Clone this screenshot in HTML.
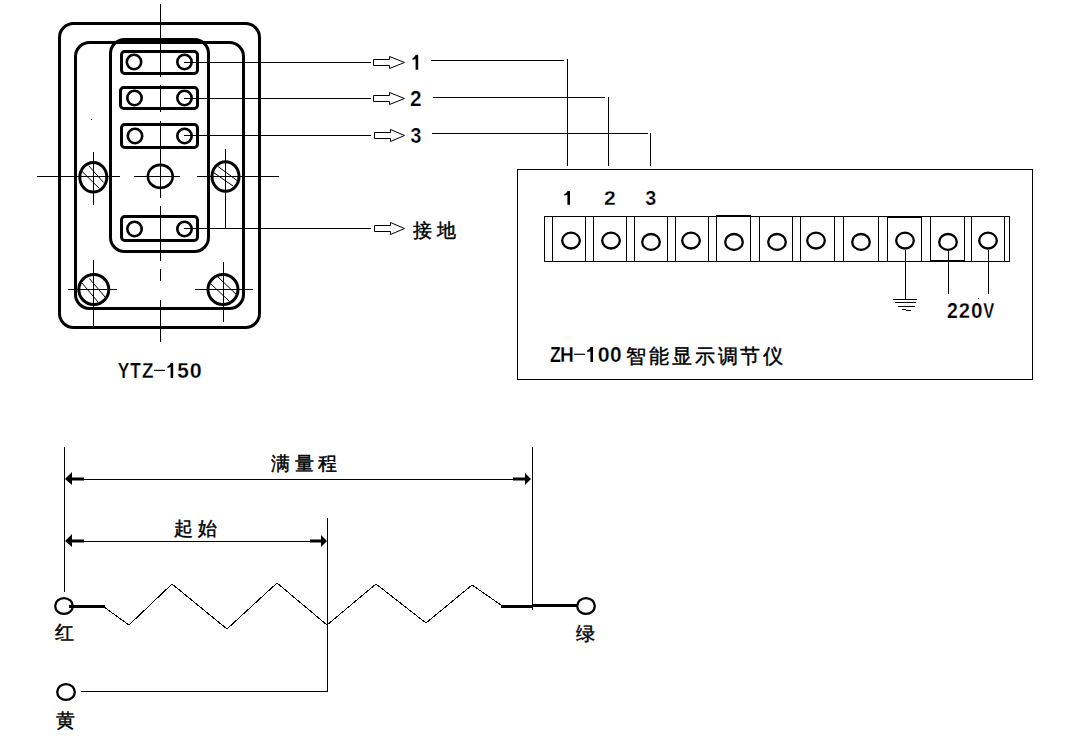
<!DOCTYPE html>
<html><head><meta charset="utf-8">
<style>
html,body{margin:0;padding:0;background:#fff;width:1072px;height:747px;overflow:hidden}
svg{display:block;position:absolute;left:0;top:0}
.g{font-family:"Liberation Sans",sans-serif;font-weight:bold;fill:#000;stroke:#fff;stroke-width:0.25}
.c{font-family:"Liberation Serif",serif;font-weight:normal;fill:#000;stroke:#000;stroke-width:0.45}
</style></head><body>
<svg width="1072" height="747" viewBox="0 0 1072 747">
<g fill="none" stroke="#000">
<!-- ===== left device ===== -->
<rect x="59.5" y="23.5" width="200" height="304" rx="14" ry="14" stroke-width="3"/>
<rect x="75.5" y="42.5" width="168" height="266" rx="14" ry="14" stroke-width="3"/>
<rect x="110.5" y="39.5" width="98" height="212" rx="14" ry="14" stroke-width="3"/>
<!-- slots -->
<rect x="121.5" y="51.5" width="76" height="22" rx="3.2" stroke-width="3"/>
<rect x="120.5" y="87.5" width="77" height="21" rx="3.2" stroke-width="3"/>
<rect x="121.5" y="124.5" width="76" height="23" rx="3.2" stroke-width="3"/>
<rect x="121.5" y="216.5" width="76" height="24" rx="3.2" stroke-width="3"/>
<g stroke-width="2.6">
<circle cx="134" cy="62" r="7.2"/><circle cx="184.5" cy="62" r="7.2"/>
<circle cx="134.5" cy="98" r="7.2"/><circle cx="184.5" cy="98" r="7.2"/>
<circle cx="135" cy="136" r="7.2"/><circle cx="184.5" cy="136" r="7.2"/>
<circle cx="134.5" cy="229" r="7.2"/><circle cx="184.5" cy="229" r="7.2"/>
</g>
<!-- holes -->
<g stroke-width="3">
<ellipse cx="93.3" cy="177.3" rx="13.5" ry="14.8"/>
<ellipse cx="225.5" cy="176.5" rx="13.5" ry="14.8"/>
<ellipse cx="93.8" cy="289.5" rx="15" ry="15"/>
<ellipse cx="223" cy="289.5" rx="15" ry="15"/>
</g>
<ellipse cx="160.3" cy="176.4" rx="12.4" ry="11.5" stroke-width="2.6"/>
<!-- hatch -->
<g stroke-width="1">
<path d="M82 171.5L99.5 188.5M88.8 165.8L103.5 182.4"/>
<path d="M213.5 172.5L233 186M218 166.5L237 180.5"/>
<path d="M82 283L98 302M89.4 278.5L105 297"/>
<path d="M210.6 283.7L229.4 301.3M218 277L236.3 294.4"/>
</g>
</g>
<g fill="none" stroke="#000" stroke-width="1" shape-rendering="crispEdges">
<!-- center lines -->
<path d="M160.5 4V77M160.5 85V112M160.5 121V198M160.5 206V261M160.5 269V281M160.5 300V342"/>
<path d="M37 176.5H120M134 176.5H180M197 176.5H279"/>
<path d="M93.5 152V205M225.5 149V228"/>
<path d="M68 289.5H117M195 289.5H253M93.5 260V326M223.5 262V322"/>
<!-- leaders -->
<path d="M184 62.5H371M184 98.5H371M184 135.5H371M184 228.5H371"/>
<path d="M431 60.5H564M567.5 59V166"/>
<path d="M433 97.5H605M608.5 97V166"/>
<path d="M432 133.5H648M650.5 133V166"/>
</g>
<!-- hollow arrows -->
<g fill="#fff" stroke="#000" stroke-width="1">
<path d="M373.5 59.5H389.5V56.5L404.5 62.5L389.5 68.5V65.5H373.5Z"/>
<path d="M373.5 95.5H389.5V92.5L404.5 98.5L389.5 104.5V101.5H373.5Z"/>
<path d="M374.5 132.5H390.5V129.5L404.5 135.5L390.5 141.5V138.5H374.5Z"/>
<path d="M374.5 225.5H390.5V222.5L404.5 228.5L390.5 234.5V231.5H374.5Z"/>
</g>
<text class="c" x="413" y="237" font-size="19" letter-spacing="5">接地</text>

<!-- ===== right instrument ===== -->
<g fill="none" stroke="#000" stroke-width="1" shape-rendering="crispEdges">
<rect x="517.5" y="169.5" width="515" height="210"/>
<rect x="544.5" y="216.5" width="465" height="45"/>
<path d="M552.5 216V262M585.5 216V262M593.5 216V262M626.5 216V262M634.5 216V262M667.5 216V262M675.5 216V262M708.5 216V262M716.5 216V262M750.5 216V262M759.5 216V262M792.5 216V262M800.5 216V262M834.5 216V262M843.5 216V262M878.5 216V262M887.5 216V262M921.5 216V262M930.5 216V262M964.5 216V262M971.5 216V262M1004.5 216V262"/>
<path d="M716 215.5H751M887 217.5H921M930 260.5H964"/>
<path d="M905.5 250V299M948.5 250V294M988.5 250V294"/>
<path d="M893 299.5H917M895 302.5H916M898 306.5H915M902 309.5H906M906 310.5H911"/>
</g>
<g fill="none" stroke="#000" stroke-width="2.3">
<ellipse cx="571" cy="240.6" rx="8.8" ry="7.9"/>
<ellipse cx="611" cy="240.6" rx="8.8" ry="7.9"/>
<ellipse cx="651" cy="241.9" rx="8.8" ry="7.9"/>
<ellipse cx="691" cy="240.6" rx="8.8" ry="7.9"/>
<ellipse cx="734" cy="241.9" rx="8.8" ry="7.9"/>
<ellipse cx="777" cy="241.9" rx="8.8" ry="7.9"/>
<ellipse cx="816" cy="240.6" rx="8.8" ry="7.9"/>
<ellipse cx="861" cy="241.9" rx="8.8" ry="7.9"/>
<ellipse cx="905" cy="240.6" rx="8.8" ry="7.9"/>
<ellipse cx="948" cy="241.9" rx="8.8" ry="7.9"/>
<ellipse cx="988" cy="240.6" rx="8.8" ry="7.9"/>
</g>
<rect x="978" y="298" width="1" height="1" fill="#000"/><rect x="91" y="119" width="1" height="1" fill="#000"/>
<text class="c" x="626" y="363" font-size="20" letter-spacing="2.9">智能显示调节仪</text>

<g fill="#000">
<path class="one" transform="translate(415.30 54.80) scale(1 1.000)" d="M0.5 0H2.9V15H0.3V4.2Q-1.2 4.8 -2.9 5V3.6Q-0.7 2.8 0.5 0Z"/>
<text class="g" font-size="21.44" transform="translate(409.91 106.00) scale(0.970 1)">2</text>
<text class="g" font-size="21.80" transform="translate(410.43 143.00) scale(0.898 1)">3</text>
<path class="one" transform="translate(567.10 191.00) scale(1 0.920)" d="M0.5 0H2.9V15H0.3V4.2Q-1.2 4.8 -2.9 5V3.6Q-0.7 2.8 0.5 0Z"/>
<text class="g" font-size="20.20" transform="translate(603.90 205.00) scale(1.040 1)">2</text>
<text class="g" font-size="20.20" transform="translate(645.33 205.00) scale(0.980 1)">3</text>
<text class="g" font-size="21.80" transform="translate(117.87 377.90) scale(0.799 1)">Y</text>
<text class="g" font-size="21.80" transform="translate(130.34 377.90) scale(0.785 1)">T</text>
<text class="g" font-size="21.80" transform="translate(141.96 377.90) scale(0.864 1)">Z</text>
<text class="g" font-size="21.80" transform="translate(177.31 377.90) scale(0.954 1)">5</text>
<text class="g" font-size="21.80" transform="translate(189.78 377.90) scale(0.983 1)">0</text>
<rect x="154.00" y="369.80" width="10.90" height="1.2"/>
<path class="one" transform="translate(170.30 362.90) scale(1 1.000)" d="M0.5 0H2.9V15H0.3V4.2Q-1.2 4.8 -2.9 5V3.6Q-0.7 2.8 0.5 0Z"/>
<text class="g" font-size="21.65" transform="translate(550.09 361.90) scale(0.819 1)">Z</text>
<text class="g" font-size="21.65" transform="translate(560.03 361.90) scale(0.883 1)">H</text>
<text class="g" font-size="21.65" transform="translate(597.68 361.90) scale(0.989 1)">0</text>
<text class="g" font-size="21.65" transform="translate(609.95 361.90) scale(0.965 1)">0</text>
<rect x="574.20" y="353.70" width="10.70" height="1.2"/>
<path class="one" transform="translate(590.10 347.00) scale(1 0.993)" d="M0.5 0H2.9V15H0.3V4.2Q-1.2 4.8 -2.9 5V3.6Q-0.7 2.8 0.5 0Z"/>
<text class="g" font-size="21.58" transform="translate(947.10 317.90) scale(0.906 1)">2</text>
<text class="g" font-size="21.58" transform="translate(958.83 317.90) scale(0.935 1)">2</text>
<text class="g" font-size="21.58" transform="translate(971.01 317.90) scale(0.963 1)">0</text>
<text class="g" font-size="21.58" transform="translate(983.14 317.90) scale(0.766 1)">V</text>
</g>
<!-- ===== bottom resistor ===== -->
<g fill="none" stroke="#000" stroke-width="1" shape-rendering="crispEdges">
<path d="M64.5 447V592M532.5 447V610M327.5 518V691.5H81"/>
<path d="M84 479.5H513M84 541.5H310"/>
</g>
<g fill="#000">
<path d="M65 479L72 472V477.5H84V480.5H72V485Z"/>
<path d="M531 479L525 473V477.5H513V480.5H525V485Z"/>
<path d="M65 541L72 534V539.5H84V542.5H72V547Z"/>
<path d="M327 541L321 535V539.5H310V542.5H321V547Z"/>
</g>
<path d="M104 607L129 625L172 584L227 629L277 583L327 625L376 584L426 623L472 585L501 605" fill="none" stroke="#000" stroke-width="1" shape-rendering="crispEdges"/>
<g fill="#000" shape-rendering="crispEdges">
<rect x="69" y="605" width="36" height="3"/>
<rect x="501" y="605" width="31" height="3"/>
<rect x="532" y="604" width="46" height="3"/>
</g>
<g fill="none" stroke="#000" stroke-width="2.3">
<ellipse cx="64" cy="606" rx="8.8" ry="7.9"/>
<ellipse cx="586" cy="606" rx="8.8" ry="7.9"/>
<ellipse cx="66" cy="692" rx="8.8" ry="7.9"/>
</g>
<text class="c" x="271" y="470" font-size="19" letter-spacing="4.5">满量程</text>
<text class="c" x="174" y="535" font-size="19" letter-spacing="5">起始</text>
<text class="c" x="55" y="639" font-size="19">红</text>
<text class="c" x="576" y="640" font-size="19">绿</text>
<text class="c" x="56" y="726.5" font-size="19">黄</text>
</svg>
</body></html>
